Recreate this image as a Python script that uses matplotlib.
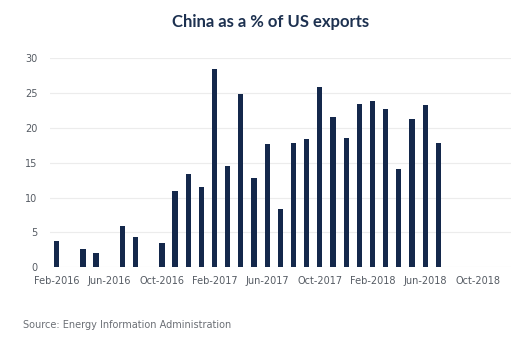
import numpy as np
import matplotlib.pyplot as plt

# monthly categories Feb-2016 .. Dec-2018
months = ["Jan", "Feb", "Mar", "Apr", "May", "Jun", "Jul", "Aug", "Sep", "Oct", "Nov", "Dec"]
labels = []
for ano in [2016, 2017, 2018]:
    for m in months:
        labels.append(m + "-" + str(ano))
labels = labels[1:]  # starts at Feb-2016

# values (nan = no bar)
valores = [3.8, np.nan, 2.7, 2.1, np.nan, 5.9, 4.4, np.nan, 3.5, 11.0, 13.4, 11.5,
           28.4, 14.5, 24.8, 12.8, 17.7, 8.4, 17.8, 18.4, 25.9, 21.6, 18.5, 23.4,
           23.8, 22.7, 14.1, 21.3, 23.3, 17.9, np.nan, np.nan, np.nan, np.nan, np.nan]

yticks = [0, 5, 10, 15, 20, 25, 30]

navy = "#14284b"
cinza = "#555b63"

fig = plt.figure(figsize=(5.26, 3.38), dpi=100)
ax = fig.add_axes([0.095, 0.209, 0.876, 0.619])

x = np.arange(len(labels))
ax.bar(x, valores, width=0.4, color=navy, zorder=3)

ax.set_xlim(-0.5, len(labels) - 0.5)
ax.set_ylim(0, 30)
ax.set_yticks(yticks)
ax.set_xticks(x[::4])
ax.set_xticklabels(labels[::4])

ax.grid(True, axis='y', color='#ececec', linewidth=0.8, zorder=0)
for s in ax.spines.values():
    s.set_visible(False)
ax.tick_params(length=0, labelsize=7, labelcolor=cinza, pad=6)
ax.tick_params(axis='y', pad=9)

fig.text(0.515, 0.935, "China as a % of US exports", ha='center', va='center',
         fontsize=12, fontweight='bold', color="#1d3150", family="Lato")
fig.text(0.044, 0.038, "Source: Energy Information Administration", ha='left', va='center',
         fontsize=7, color="#6b6f75")

plt.savefig("out.png", dpi=100)
